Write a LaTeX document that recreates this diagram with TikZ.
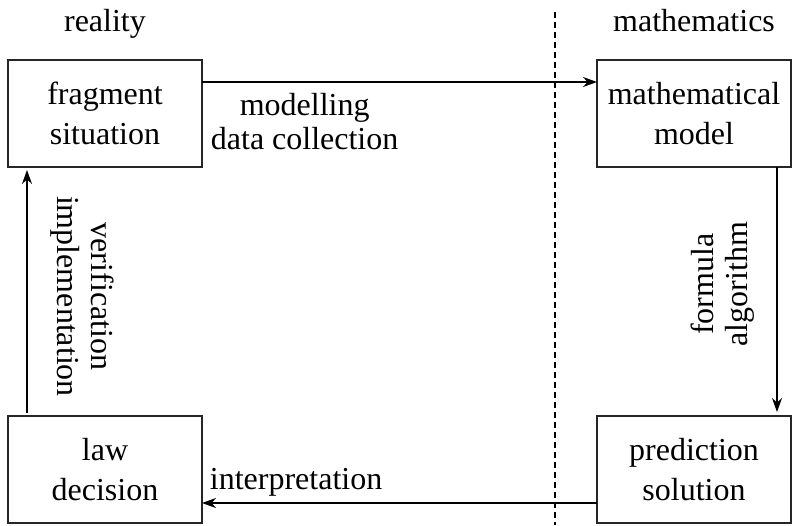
\documentclass[tikz,border=0pt]{standalone}
\usepackage{fontspec}
\setmainfont{Liberation Serif}
\usetikzlibrary{arrows.meta,positioning}

\begin{document}
\begin{tikzpicture}[node distance=124.5pt and 197.5pt,
  box/.style={draw=black!85, line width=1.2pt, minimum width=97pt, minimum height=53.5pt,
    align=center, inner sep=0pt, outer sep=0pt, font=\fontsize{16}{20}\selectfont},
  lbl/.style={align=center, inner xsep=4pt, inner ysep=5pt, font=\fontsize{16}{17}\selectfont},
  side/.style={font=\fontsize{16}{20}\selectfont, anchor=base},
  link/.style={->, line width=0.9pt},
  divider/.style={line width=0.6pt, dash pattern=on 3pt off 2pt},
  >={Stealth[length=7pt,width=5pt]}]
\useasboundingbox (0,0) rectangle (396pt,-262.5pt);
% the four stages
\node[box] (F) at (52.5pt,-56.75pt) {fragment\\situation};
\node[box, right=of F] (M) {mathematical\\model};
\node[box, below=of F] (L) {law\\decision};
\node[box, below=of M] (P) {prediction\\solution};
% column headings and the border between them
\node[side] (real) at ([yshift=14.5pt]F.north) {reality};
\node[side] (math) at ([yshift=14.5pt]M.north) {mathematics};
\draw[divider] (277.5pt,-6pt) -- (277.5pt,-262.5pt);
% the modelling cycle
\draw[link] ([yshift=-11pt]F.north east) --
  node[lbl, pos=0, anchor=north west] {modelling\\data collection}
  ([yshift=-11pt]M.north west);
\draw[link, shorten >=2pt] ([xshift=-7pt]M.south east) --
  node[lbl, pos=0.47, rotate=90, anchor=south, inner ysep=11pt] {formula\\algorithm}
  ([xshift=-7pt]P.north east);
\draw[link] ([yshift=10pt]P.south west) --
  node[lbl, pos=1, anchor=south west, inner xsep=3.5pt, inner ysep=3pt] {interpretation}
  ([yshift=10pt]L.south east);
\draw[link, shorten <=1.5pt, shorten >=1.5pt] ([xshift=9.5pt]L.north west) --
  node[lbl, pos=0.48, rotate=-90, anchor=south, inner ysep=11.5pt] {verification\\implementation}
  ([xshift=9.5pt]F.south west);
\end{tikzpicture}
\end{document}
